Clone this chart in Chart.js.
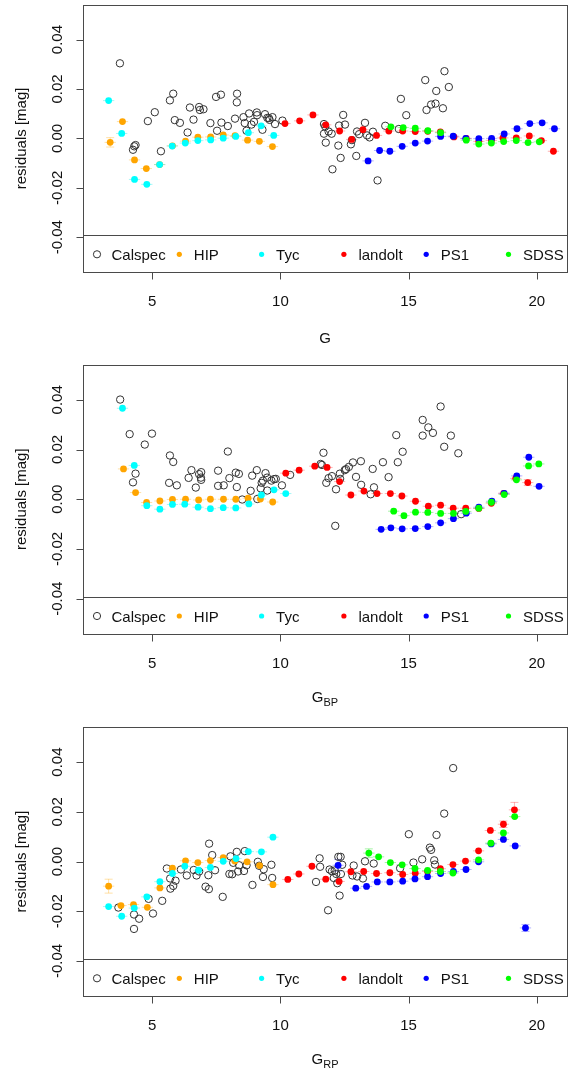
<!DOCTYPE html>
<html lang="en">
<head>
<meta charset="UTF-8">
<title>Residuals vs G, GBP, GRP</title>
<script src="https://cdn.jsdelivr.net/npm/chart.js"></script>
<style>
  html, body { margin: 0; padding: 0; background: #fff; }
  body { width: 578px; height: 1071px; position: relative; overflow: hidden; }
  canvas { position: absolute; left: 0; }
</style>
</head>
<body>
<canvas id="chartG" width="578" height="357" style="top:0px"></canvas>
<canvas id="chartBP" width="578" height="357" style="top:357px"></canvas>
<canvas id="chartRP" width="578" height="357" style="top:714px"></canvas>
<script>
// ---- data: [magnitude, residual, optional y error] ----
const seriesNames = ['Calspec', 'HIP', 'Tyc', 'landolt', 'PS1', 'SDSS'];
const xTicks = [5, 10, 15, 20];
const yTicks = [-0.04, -0.02, 0, 0.02, 0.04];
const yTickLabels = ['-0.04', '-0.02', '0.00', '0.02', '0.04'];

// G panel
const gCalspec = [[3.74,.0304],[4.25,-.0046],[4.30,-.0032],[4.35,-.0027],[4.83,.0070],[5.10,.0106],[5.34,-.0052],[5.69,.0154],[5.82,.0181],[5.88,.0074],[6.08,.0063],[6.38,.0024],[6.47,.0125],[6.61,.0076],[6.83,.0127],[6.86,.0115],[7.00,.0118],[7.27,.0062],[7.49,.0168],[7.53,.0031],[7.68,.0177],[7.70,.0064],[7.95,.0050],[8.23,.0080],[8.31,.0181],[8.30,.0146],[8.56,.0086],[8.61,.0062],[8.68,.0031],[8.78,.0101],[8.87,.0056],[8.97,.0067],[9.08,.0105],[9.09,.0094],[9.30,.0035],[9.40,.0098],[9.49,.0083],[9.55,.0082],[9.58,.0075],[9.69,.0086],[9.79,.0058],[10.08,.0072],
  [11.70,.0058],[11.75,.0048],[11.70,.0019],[11.88,.0028],[12.00,.0019],[11.77,-.0017],[12.03,-.0125],[12.26,-.0029],[12.35,-.0079],[12.29,.0052],[12.45,.0095],[12.52,.0056],[12.75,-.0024],[12.79,-.0007],[12.96,-.0071],[12.99,.0028],[13.07,.0017],[13.30,.0063],[13.38,.0012],[13.48,.0004],[13.61,.0027],[13.79,-.0170],[14.09,.0051],[14.62,.0038],[14.70,.0160],[14.91,.0094],[15.65,.0236],[15.70,.0115],[15.88,.0137],[16.05,.0141],[16.08,.0192],[16.34,.0122],[16.40,.0272],[16.57,.0208]];
const gHip = [[3.36,-.0016,.0019],[3.84,.0068],[4.31,-.0087],[4.77,-.0122],[5.29,-.0106],[5.79,-.0030],[6.30,-.0011],[6.78,.0005],[7.28,.0006],[7.77,.0014],[8.23,.0011],[8.72,-.0007],[9.18,-.0012],[9.69,-.0033]];
const gTyc = [[3.30,.0153],[3.81,.0020],[4.31,-.0166],[4.79,-.0186],[5.29,-.0106],[5.78,-.0031],[6.29,-.0019],[6.78,-.0009],[7.28,-.0006],[7.77,.0001],[8.26,.0008],[8.75,.0023],[9.25,.0051],[9.74,.0012]];
const gLandolt = [[10.18,.0060],[10.75,.0071],[11.27,.0095],[11.77,.0055],[12.31,.0030],[12.78,-.0004],[13.22,.0035],[13.75,.0012],[14.23,.0030],[14.77,.0030],[15.26,.0028],[15.75,.0029],[16.24,.0026],[16.77,.0006],[17.25,.0000],[17.74,-.0012],[18.23,-.0008],[18.68,.0002],[19.20,.0002],[19.71,.0010],[20.18,-.0009],[20.65,-.0052]];
const gPs1 = [[13.42,-.0091],[13.87,-.0049],[14.27,-.0052],[14.75,-.0032],[15.26,-.0019],[15.74,-.0011],[16.25,.0008],[16.74,.0009],[17.23,.0000],[17.74,-.0001],[18.24,.0000],[18.73,.0018],[19.23,.0039],[19.73,.0060],[20.21,.0063],[20.69,.0039]];
const gSdss = [[14.31,.0047],[14.79,.0044],[15.26,.0041],[15.75,.0031],[16.25,.0023],[17.25,-.0007],[17.74,-.0023],[18.23,-.0019],[18.71,-.0013],[19.20,-.0009],[19.66,-.0017],[20.10,-.0014]];

// G_BP panel
const bpCalspec = [[3.75,.0401],[4.12,.0262],[4.25,.0068],[4.35,.0103],[4.71,.0220],[4.99,.0264],[5.69,.0176],[5.82,.0150],[5.66,.0066],[5.96,.0056],[6.42,.0086],[6.53,.0117],[6.70,.0047],[6.83,.0101],[6.91,.0109],[6.90,.0087],[6.91,.0078],[7.57,.0115],[7.57,.0054],[7.79,.0056],[7.95,.0192],[8.01,.0085],[8.26,.0107],[8.30,.0049],[8.38,.0102],[8.51,-.0001],[8.84,.0034],[8.90,.0095],[9.08,.0117],[9.10,.0001],[9.23,.0044],[9.27,.0066],[9.32,.0075],[9.42,.0105],[9.48,.0087],[9.49,.0035],[9.65,.0075],[9.75,.0081],[9.82,.0082],[10.06,.0056],[10.38,.0098],
  [11.57,.0142],[11.62,.0138],[11.68,.0187],[11.79,.0066],[11.88,.0085],[12.01,.0093],[12.17,.0040],[12.14,-.0107],[12.32,.0103],[12.33,.0082],[12.51,.0117],[12.56,.0121],[12.67,.0130],[12.83,.0148],[12.95,.0090],[13.14,.0153],[13.15,.0058],[13.52,.0020],[13.60,.0122],[13.65,.0048],[14.00,.0149],[14.22,.0089],[14.52,.0258],[14.58,.0149],[14.77,.0191],[15.55,.0319],[15.55,.0256],[15.77,.0289],[15.95,.0267],[16.25,.0373],[16.39,.0211],[16.65,.0256],[16.94,.0185],[17.05,-.0060]];
const bpHip = [[3.88,.0122],[4.35,.0027],[4.78,-.0013],[5.30,-.0007],[5.79,-.0001],[6.30,.0000],[6.81,-.0003],[7.27,.0000],[7.78,.0000],[8.26,.0000],[8.74,.0004],[9.22,.0001],[9.70,-.0011]];
const bpTyc = [[3.84,.0366],[4.30,.0136],[4.79,-.0026],[5.30,-.0040],[5.79,-.0021],[6.27,-.0020],[6.79,-.0032],[7.27,-.0038],[7.77,-.0034],[8.26,-.0035],[8.77,-.0019],[9.26,.0017],[9.75,.0038],[10.21,.0023]];
const bpLandolt = [[10.21,.0105],[10.73,.0117],[11.34,.0133],[11.82,.0128],[12.31,.0071],[12.75,.0017],[13.26,.0033],[13.77,.0023],[14.29,.0023],[14.74,.0013],[15.27,-.0008],[15.77,-.0028],[16.25,-.0024],[16.74,-.0036],[17.23,-.0036],[17.74,-.0037],[18.23,-.0016],[18.71,.0024],[19.18,.0084],[19.65,.0067,.0012]];
const bpPs1 = [[13.93,-.0121],[14.31,-.0115],[14.75,-.0119],[15.26,-.0118],[15.75,-.0110],[16.25,-.0095],[16.75,-.0078],[17.25,-.0056],[17.74,-.0032],[18.25,-.0008],[18.73,.0024],[19.22,.0094],[19.69,.0169],[20.09,.0052]];
const bpSdss = [[14.42,-.0048],[14.82,-.0066],[15.27,-.0052],[15.75,-.0053],[16.25,-.0057],[16.75,-.0057],[17.23,-.0049],[17.74,-.0036],[18.23,-.0012],[18.73,.0019],[19.21,.0078],[19.68,.0134],[20.08,.0142]];

// G_RP panel
const rpCalspec = [[3.68,-.0185],[4.29,-.0213],[4.29,-.0271],[4.49,-.0230],[4.86,-.0150],[5.03,-.0209],[5.39,-.0158],[5.57,-.0028],[5.70,-.0068],[5.71,-.0109],[5.82,-.0098],[5.91,-.0077],[6.12,-.0032],[6.35,-.0056],[6.62,-.0034],[6.73,-.0056],[6.83,-.0040],[7.08,-.0101],[7.21,-.0111],[7.19,-.0055],[7.22,.0072],[7.34,.0026],[7.45,-.0035],[7.75,-.0142],[8.01,-.0050],[8.05,.0021],[8.12,-.0051],[8.16,-.0005],[8.30,.0039],[8.35,-.0040],[8.39,-.0015],[8.58,-.0038],[8.61,.0042],[8.68,-.0015],[8.91,-.0094],[9.12,-.0001],[9.17,-.0017],[9.35,-.0031],[9.32,-.0062],[9.65,-.0013],[9.68,-.0066],
  [11.39,-.0082],[11.53,.0013],[11.55,-.0021],[11.86,-.0196],[11.92,-.0032],[12.01,-.0039],[12.08,-.0066],[12.12,-.0036],[12.18,-.0050],[12.22,-.0087],[12.26,.0019],[12.35,.0019],[12.31,-.0137],[12.36,-.0050],[12.41,-.0013],[12.86,-.0016],[12.81,-.0056],[12.99,-.0060],[13.22,-.0068],[13.30,.0001],[13.64,-.0008],[14.67,-.0027],[15.01,.0110],[15.19,-.0004],[15.53,.0009],[15.83,.0056],[15.88,.0047],[16.00,.0005],[16.03,-.0012],[16.09,.0107],[16.39,.0193],[16.74,.0376]];
const rpHip = [[3.30,-.0099,.0028],[3.78,-.0177],[4.27,-.0173],[4.81,-.0184],[5.30,-.0106],[5.79,-.0027],[6.30,.0003],[6.78,-.0004],[7.27,.0004],[7.77,.0016],[8.22,.0002],[8.70,-.0001],[9.19,-.0016],[9.71,-.0093]];
const rpTyc = [[3.30,-.0181],[3.81,-.0220],[4.30,-.0187],[4.79,-.0142],[5.30,-.0081],[5.79,-.0048],[6.27,-.0019],[6.81,-.0035],[7.27,-.0024],[7.77,.0001],[8.27,.0012],[8.75,.0040],[9.26,.0039],[9.71,.0098]];
const rpLandolt = [[10.29,-.0072],[10.72,-.0050],[11.23,-.0019],[11.77,-.0071],[12.29,-.0080],[12.75,-.0041],[13.25,-.0040],[13.75,-.0048],[14.27,-.0045],[14.77,-.0052],[15.26,-.0047],[15.74,-.0040],[16.24,-.0029],[16.73,-.0012],[17.22,.0002],[17.73,.0043],[18.19,.0125],[18.70,.0150,.0013],[19.13,.0208,.0030]];
const rpPs1 = [[12.25,-.0015,.0024],[12.94,-.0107],[13.36,-.0100],[13.78,-.0082],[14.27,-.0082],[14.77,-.0079],[15.25,-.0070],[15.74,-.0061],[16.25,-.0048],[16.75,-.0040],[17.24,-.0032],[17.73,-.0001],[18.22,.0071],[18.70,.0089],[19.16,.0063],[19.56,-.0267,.0014]];
const rpSdss = [[13.45,.0034,.0017],[13.83,.0019],[14.29,-.0004],[14.75,-.0013],[15.25,-.0028],[15.74,-.0036],[16.24,-.0040],[16.73,-.0046],[17.73,.0007],[18.21,.0074],[18.70,.0115],[19.14,.0181]];

// ---- styling ----
const FONT = "'Liberation Sans', Arial, Helvetica, sans-serif";
const pointColors = ['#333333', '#FFA500', '#00FFFF', '#FF0000', '#0000FF', '#00FF00'];
const errColors = ['', 'rgba(255,165,0,0.35)', 'rgba(0,230,230,0.35)', 'rgba(255,0,0,0.3)', 'rgba(0,0,255,0.3)', 'rgba(0,220,0,0.35)'];
const frameColor = '#4a4a4a';
const legendTop = -0.0392;   // legend strip sits inside plot
const binHalf = 0.22;        // horizontal bar half width (mag)

const errorBars = {
  id: 'errorBars',
  beforeDatasetsDraw(chart) {
    const { ctx, scales: { x, y } } = chart;
    ctx.save();
    ctx.lineWidth = 1;
    chart.data.datasets.forEach((ds, i) => {
      if (i === 0) return;
      ctx.strokeStyle = errColors[i];
      ds.data.forEach(p => {
        const px = x.getPixelForValue(p.x), py = y.getPixelForValue(p.y);
        ctx.beginPath();
        ctx.moveTo(x.getPixelForValue(p.x - binHalf), py);
        ctx.lineTo(x.getPixelForValue(p.x + binHalf), py);
        if (p.e) {
          const t = y.getPixelForValue(p.y + p.e), b = y.getPixelForValue(p.y - p.e);
          ctx.moveTo(px, t); ctx.lineTo(px, b);
          ctx.moveTo(px - 4, t); ctx.lineTo(px + 4, t);
          ctx.moveTo(px - 4, b); ctx.lineTo(px + 4, b);
        }
        ctx.stroke();
      });
    });
    ctx.restore();
  }
};

const rFrame = {
  id: 'rFrame',
  afterDatasetsDraw(chart, args, opts) {
    const { ctx, chartArea: a, scales: { x, y } } = chart;
    ctx.save();
    // legend strip
    const ly = Math.round(y.getPixelForValue(legendTop)) + 0.5;
    ctx.fillStyle = '#fff';
    ctx.fillRect(a.left, ly, a.right - a.left, a.bottom - ly);
    ctx.strokeStyle = frameColor;
    ctx.lineWidth = 1;
    ctx.beginPath();
    ctx.moveTo(a.left, ly); ctx.lineTo(a.right, ly);
    ctx.stroke();

    // box
    const L = Math.round(a.left) + 0.5, R = Math.round(a.right) + 0.5;
    const T = Math.round(a.top) + 0.5, B = Math.round(a.bottom) + 0.5;
    ctx.strokeRect(L, T, R - L, B - T);

    // ticks
    ctx.beginPath();
    xTicks.forEach(v => {
      const px = Math.round(x.getPixelForValue(v)) + 0.5;
      ctx.moveTo(px, B); ctx.lineTo(px, B + 7);
    });
    yTicks.forEach(v => {
      const py = Math.round(y.getPixelForValue(v)) + 0.5;
      ctx.moveTo(L, py); ctx.lineTo(L - 7, py);
    });
    ctx.stroke();

    ctx.fillStyle = '#111';
    ctx.font = '15px ' + FONT;
    ctx.textAlign = 'center';
    ctx.textBaseline = 'alphabetic';
    xTicks.forEach(v => ctx.fillText(String(v), x.getPixelForValue(v), a.bottom + 34));
    yTicks.forEach((v, i) => {
      ctx.save();
      ctx.translate(61.5, y.getPixelForValue(v));
      ctx.rotate(-Math.PI / 2);
      ctx.fillText(yTickLabels[i], 0, 0);
      ctx.restore();
    });
    ctx.save();
    ctx.translate(26, (a.top + a.bottom) / 2);
    ctx.rotate(-Math.PI / 2);
    ctx.fillText('residuals [mag]', 0, 0);
    ctx.restore();

    // x title with optional subscript
    const cx = (a.left + a.right) / 2;
    const base = a.bottom + opts.titleDy;
    ctx.textAlign = 'left';
    ctx.font = '15px ' + FONT;
    const wMain = ctx.measureText(opts.title).width;
    ctx.font = '11px ' + FONT;
    const wSub = opts.sub ? ctx.measureText(opts.sub).width : 0;
    const x0 = cx - (wMain + wSub) / 2;
    ctx.font = '15px ' + FONT;
    ctx.fillText(opts.title, x0, base);
    if (opts.sub) {
      ctx.font = '11px ' + FONT;
      ctx.fillText(opts.sub, x0 + wMain, base + 4);
    }

    // legend entries
    const symY = a.bottom - 17.5, txtY = a.bottom - 12;
    ctx.font = '15px ' + FONT;
    seriesNames.forEach((name, i) => {
      const sx = a.left + 14 + i * 82.3;
      ctx.beginPath();
      if (i === 0) {
        ctx.arc(sx, symY, 3.6, 0, Math.PI * 2);
        ctx.strokeStyle = pointColors[0];
        ctx.stroke();
      } else {
        ctx.arc(sx, symY, 2.6, 0, Math.PI * 2);
        ctx.fillStyle = pointColors[i];
        ctx.fill();
      }
      ctx.fillStyle = '#111';
      ctx.fillText(name, sx + 14.5, txtY);
    });
    ctx.restore();
  }
};

function makeChart(id, sets, padTop, padBottom, title, sub, titleDy) {
  const datasets = sets.map((pts, i) => ({
    label: seriesNames[i],
    data: pts.map(p => ({ x: p[0], y: p[1], e: p[2] || 0 })),
    order: seriesNames.length - i,
    pointStyle: 'circle',
    pointRadius: i === 0 ? 3.7 : 3.4,
    pointBackgroundColor: i === 0 ? 'rgba(0,0,0,0)' : pointColors[i],
    pointBorderColor: pointColors[i],
    pointBorderWidth: i === 0 ? 1 : 0,
    showLine: false
  }));
  return new Chart(document.getElementById(id), {
    type: 'scatter',
    data: { datasets },
    options: {
      responsive: false,
      animation: false,
      events: [],
      layout: { padding: { left: 83, right: 11, top: padTop, bottom: padBottom } },
      scales: {
        x: { type: 'linear', min: 2.3, max: 21.18, display: false },
        y: { type: 'linear', min: -0.054, max: 0.054, display: false }
      },
      plugins: {
        legend: { display: false },
        tooltip: { enabled: false },
        rFrame: { title, sub, titleDy }
      }
    },
    plugins: [errorBars, rFrame]
  });
}

makeChart('chartG', [gCalspec, gHip, gTyc, gLandolt, gPs1, gSdss], 3.3, 85.2, 'G', '', 71);
makeChart('chartBP', [bpCalspec, bpHip, bpTyc, bpLandolt, bpPs1, bpSdss], 8, 80.5, 'G', 'BP', 68);
makeChart('chartRP', [rpCalspec, rpHip, rpTyc, rpLandolt, rpPs1, rpSdss], 13.3, 75.2, 'G', 'RP', 68);
</script>
</body>
</html>
